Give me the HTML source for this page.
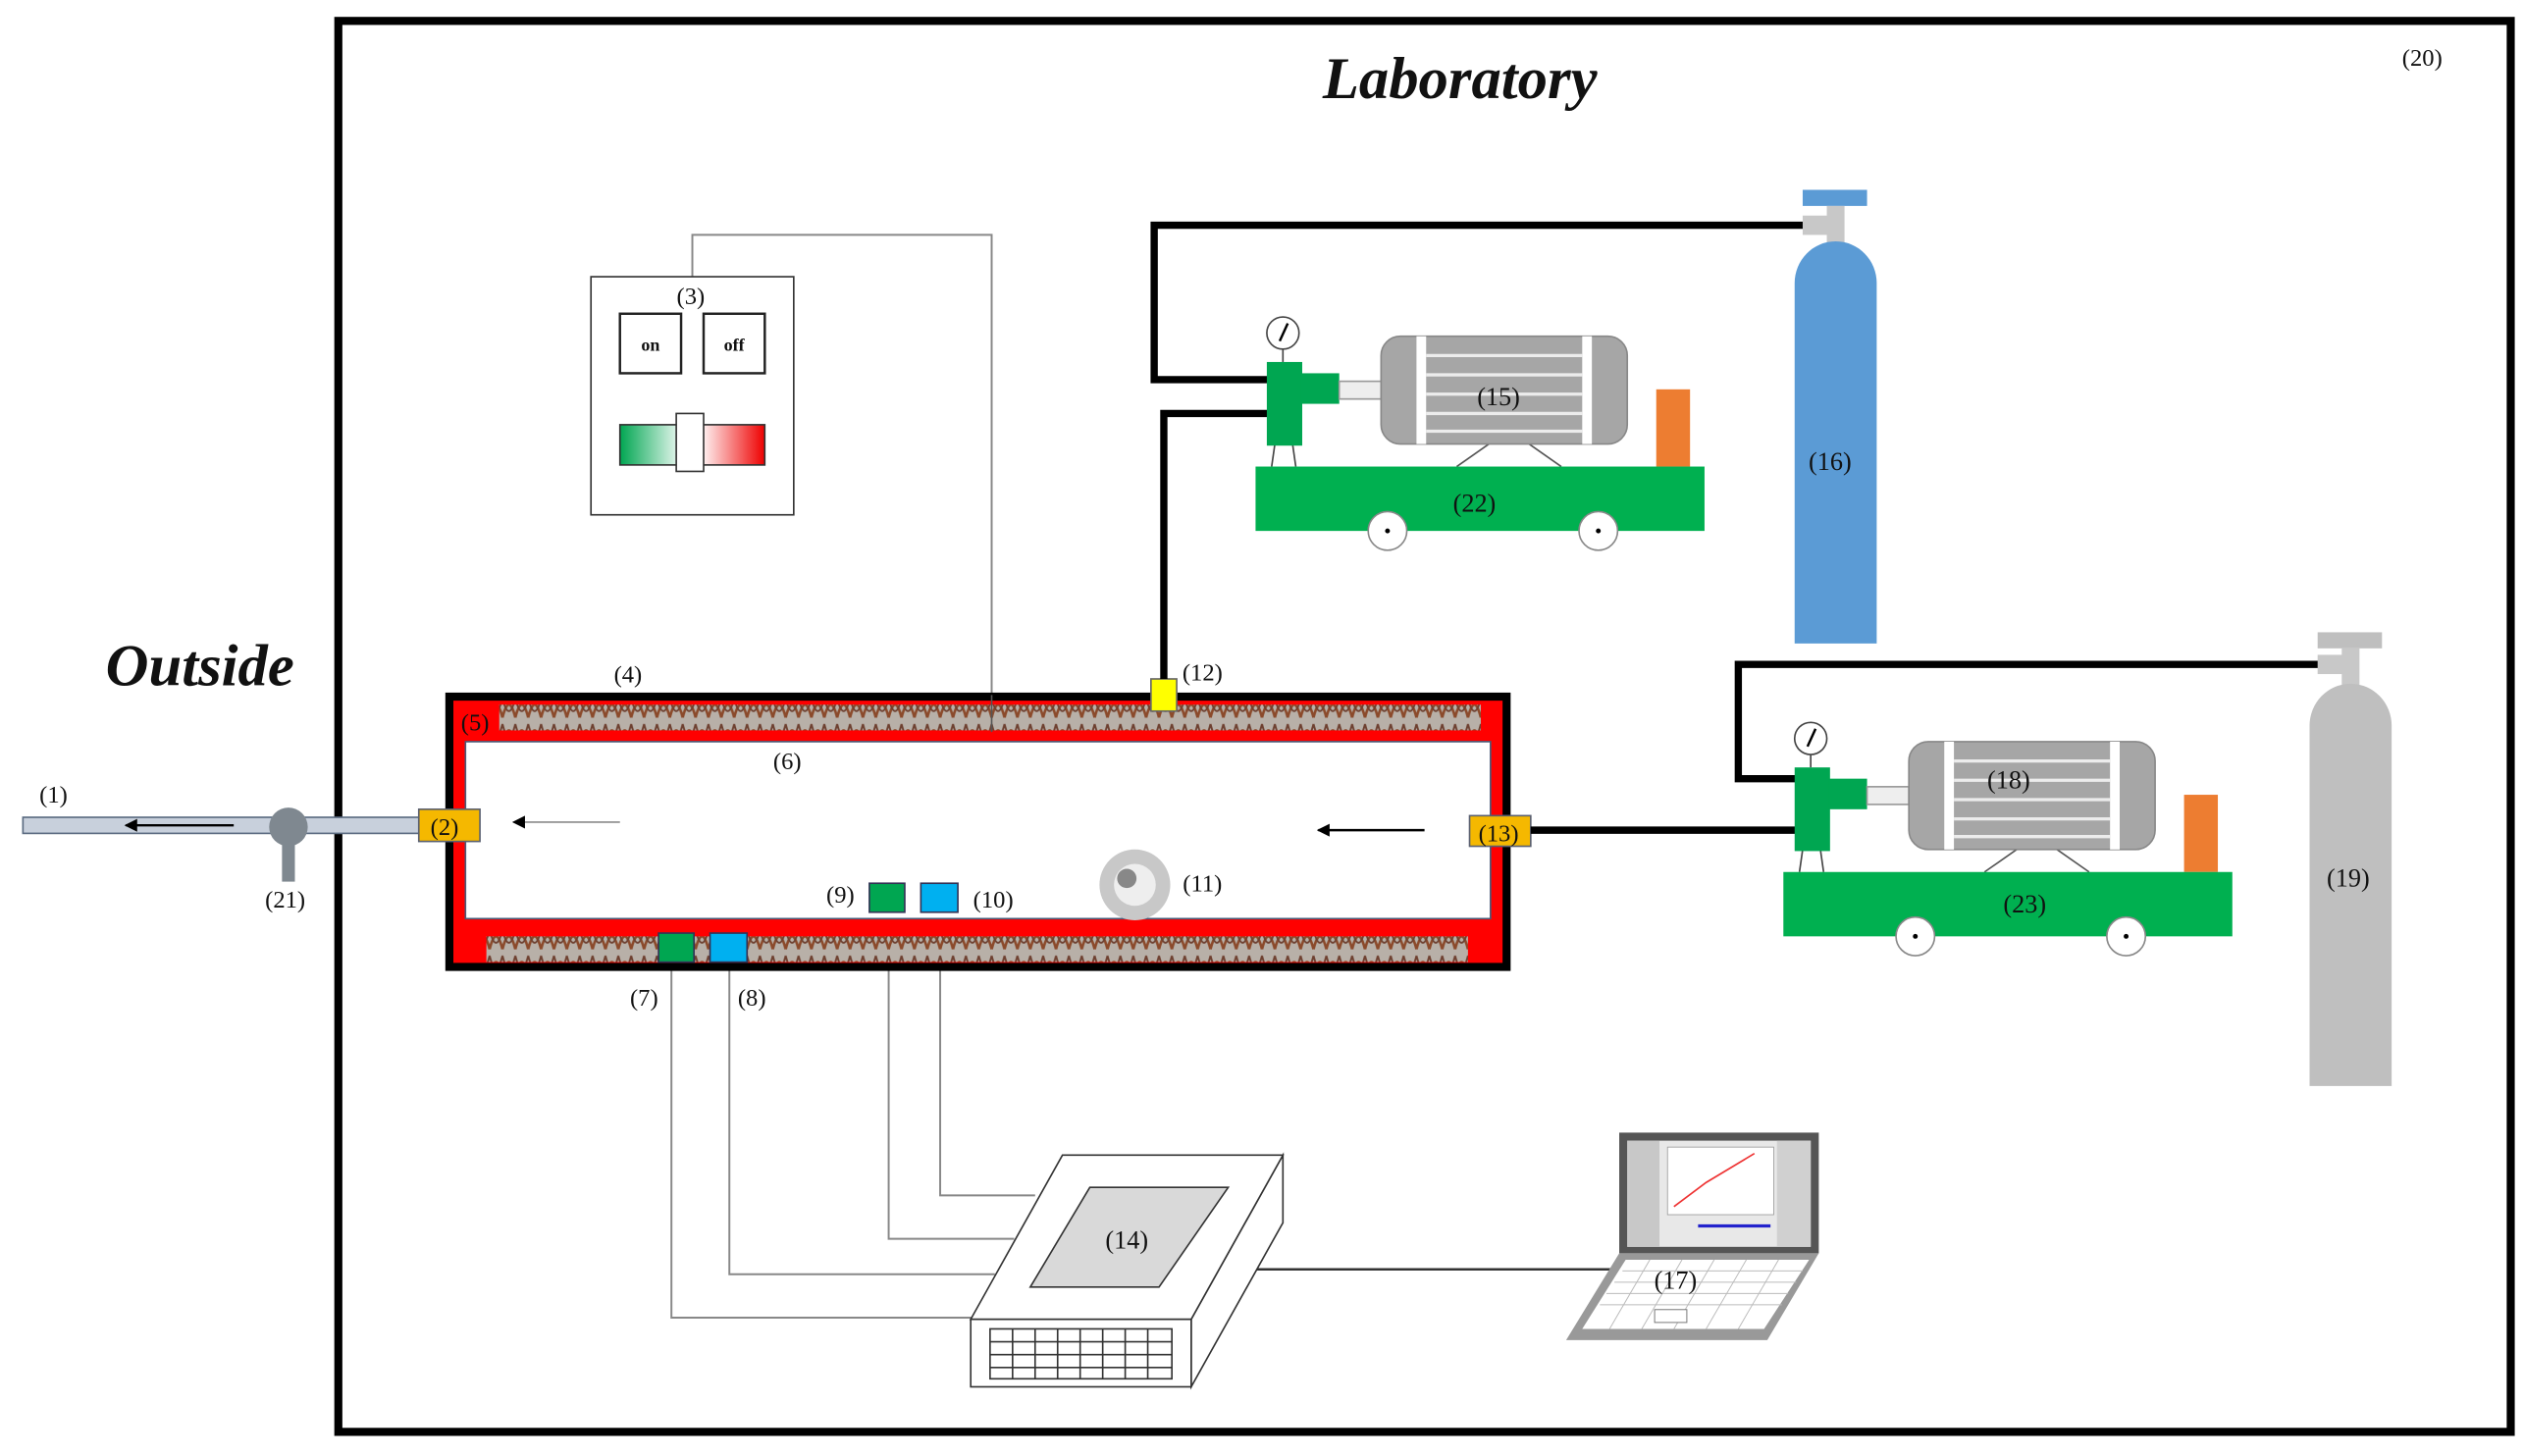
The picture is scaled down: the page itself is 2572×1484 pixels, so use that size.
<!DOCTYPE html>
<html><head><meta charset="utf-8"><style>html,body{margin:0;padding:0;background:#fff}svg{display:block}text{font-family:"Liberation Serif",serif;fill:#111}</style></head><body>
<svg width="2572" height="1484" viewBox="0 0 1568 905" xmlns="http://www.w3.org/2000/svg">
<defs>
<pattern id="coil" width="8" height="16" patternUnits="userSpaceOnUse">
<rect width="8" height="16" fill="#b8b0a8"/>
<path d="M0 14 Q4 -2 8 14" stroke="#8b4a2b" stroke-width="1.6" fill="none"/>
<path d="M0 2 Q4 18 8 2" stroke="#6e4030" stroke-width="1.2" fill="none"/>
</pattern>
<linearGradient id="sw" x1="0" x2="1"><stop offset="0" stop-color="#00a651"/><stop offset="0.45" stop-color="#fff"/><stop offset="0.55" stop-color="#fff"/><stop offset="1" stop-color="#e00"/></linearGradient>
<marker id="ah" markerWidth="8" markerHeight="8" refX="7" refY="4" orient="auto" markerUnits="userSpaceOnUse"><path d="M0 0 L8 4 L0 8 Z" fill="#000"/></marker>
</defs>
<rect x="0" y="0" width="1568" height="905" fill="#fff"/>
<rect x="210" y="13" width="1350" height="877" fill="none" stroke="#000" stroke-width="5"/>
<text x="907" y="61" font-size="37" font-weight="bold" font-style="italic" text-anchor="middle" transform="translate(907 0) scale(1.0 1) translate(-907 0)">Laboratory</text>
<text x="1505" y="41" font-size="15" text-anchor="middle">(20)</text>
<text x="124" y="426" font-size="37" font-weight="bold" font-style="italic" text-anchor="middle">Outside</text>

<g stroke="#888" stroke-width="1.2" fill="none">
<polyline points="430,172 430,146 616,146 616,432"/>
<polyline points="417,600 417,819 604,819"/>
<polyline points="453,600 453,792 618,792"/>
<polyline points="552,567 552,770 630,770"/>
<polyline points="584,567 584,743 643,743"/>
</g>
<line x1="780" y1="789" x2="1005" y2="789" stroke="#333" stroke-width="1.5"/>

<rect x="14" y="508" width="248" height="10" fill="#c8d0dc" stroke="#5a6a80" stroke-width="1"/>
<line x1="145" y1="513" x2="78" y2="513" stroke="#000" stroke-width="1.5" marker-end="url(#ah)"/>
<text x="33" y="499" font-size="15" text-anchor="middle">(1)</text>
<rect x="175" y="520" width="8" height="28" fill="#7f8890"/>
<circle cx="179" cy="514" r="12" fill="#7f8890"/>
<text x="177" y="564" font-size="15" text-anchor="middle">(21)</text>

<rect x="279" y="433" width="657" height="168" fill="#f00" stroke="#000" stroke-width="5"/>
<rect x="310" y="438" width="610" height="16" fill="url(#coil)"/>
<rect x="302" y="582" width="610" height="16" fill="url(#coil)"/>
<rect x="289" y="461" width="637" height="110" fill="#fff" stroke="#4a5a78" stroke-width="1"/>
<line x1="616" y1="432" x2="616" y2="455" stroke="#555" stroke-width="1"/>
<rect x="260" y="503" width="38" height="20" fill="#f5b800" stroke="#5a6070"/>
<text x="276" y="519" font-size="15" text-anchor="middle">(2)</text>
<rect x="913" y="507" width="38" height="19" fill="#f5b800" stroke="#5a6070"/>
<text x="931" y="523" font-size="15" text-anchor="middle">(13)</text>
<rect x="715" y="422" width="16" height="20" fill="#ffff00" stroke="#666"/>
<text x="747" y="423" font-size="15" text-anchor="middle">(12)</text>
<line x1="385" y1="511" x2="319" y2="511" stroke="#999" stroke-width="1.2" marker-end="url(#ah)"/>
<line x1="885" y1="516" x2="819" y2="516" stroke="#000" stroke-width="1.5" marker-end="url(#ah)"/>
<text x="390" y="424" font-size="15" text-anchor="middle">(4)</text>
<text x="295" y="454" font-size="15" text-anchor="middle">(5)</text>
<text x="489" y="478" font-size="15" text-anchor="middle">(6)</text>
<text x="522" y="561" font-size="15" text-anchor="middle">(9)</text>
<text x="617" y="564" font-size="15" text-anchor="middle">(10)</text>
<text x="747" y="554" font-size="15" text-anchor="middle">(11)</text>
<text x="400" y="625" font-size="15" text-anchor="middle">(7)</text>
<text x="467" y="625" font-size="15" text-anchor="middle">(8)</text>
<rect x="540" y="549" width="22" height="18" fill="#00a651" stroke="#335"/>
<rect x="572" y="549" width="23" height="18" fill="#00b0f0" stroke="#335"/>
<rect x="409" y="580" width="22" height="18" fill="#00a651" stroke="#335"/>
<rect x="441" y="580" width="23" height="18" fill="#00b0f0" stroke="#335"/>
<circle cx="705" cy="550" r="22" fill="#c8c8c8"/>
<circle cx="705" cy="550" r="13" fill="#eee"/>
<circle cx="700" cy="546" r="6" fill="#888"/>

<rect x="367" y="172" width="126" height="148" fill="#fff" stroke="#333"/>
<text x="429" y="189" font-size="15" text-anchor="middle">(3)</text>
<rect x="385" y="195" width="38" height="37" fill="#fff" stroke="#222" stroke-width="1.5"/>
<rect x="437" y="195" width="38" height="37" fill="#fff" stroke="#222" stroke-width="1.5"/>
<text x="404" y="218" font-size="11" font-weight="bold" text-anchor="middle">on</text>
<text x="456" y="218" font-size="11" font-weight="bold" text-anchor="middle">off</text>
<rect x="385" y="264" width="90" height="25" fill="url(#sw)" stroke="#333"/>
<rect x="420" y="257" width="17" height="36" fill="#fff" stroke="#333"/>

<g stroke="#000" stroke-width="4.5" fill="none">
<polyline points="1122,140 717,140 717,236 788,236"/>
<polyline points="723,422 723,257 788,257"/>
<polyline points="1444,413 1080,413 1080,484 1116,484"/>
<line x1="951" y1="516" x2="1116" y2="516"/>
</g>

<g id="c1">
<line x1="792" y1="276" x2="790" y2="290" stroke="#444"/><line x1="803" y1="276" x2="805" y2="290" stroke="#444"/>
<line x1="797" y1="217" x2="797" y2="225" stroke="#444"/>
<circle cx="797" cy="207" r="10" fill="#fff" stroke="#444"/>
<line x1="795" y1="212" x2="800" y2="201" stroke="#000" stroke-width="1.5"/>
<rect x="787" y="225" width="22" height="52" fill="#00a651"/>
<rect x="808" y="232" width="24" height="19" fill="#00a651"/>
<rect x="832" y="237" width="26" height="11" fill="#eee" stroke="#999"/>
<line x1="925" y1="276" x2="905" y2="290" stroke="#555"/><line x1="950" y1="276" x2="970" y2="290" stroke="#555"/>
<rect x="858" y="209" width="153" height="67" rx="12" fill="#a6a6a6" stroke="#888"/>
<rect x="880" y="209" width="6" height="67" fill="#fff"/><rect x="983" y="209" width="6" height="67" fill="#fff"/>
<g stroke="#ececec" stroke-width="2"><line x1="886" y1="221" x2="983" y2="221"/><line x1="886" y1="233" x2="983" y2="233"/><line x1="886" y1="245" x2="983" y2="245"/><line x1="886" y1="257" x2="983" y2="257"/><line x1="886" y1="268" x2="983" y2="268"/></g>
<rect x="1029" y="242" width="21" height="48" fill="#ed7d31"/>
<rect x="780" y="290" width="279" height="40" fill="#00b050"/>
<circle cx="862" cy="330" r="12" fill="#fff" stroke="#888"/><circle cx="862" cy="330" r="1.5" fill="#000"/>
<circle cx="993" cy="330" r="12" fill="#fff" stroke="#888"/><circle cx="993" cy="330" r="1.5" fill="#000"/>
</g>
<text x="931" y="252" font-size="16" text-anchor="middle">(15)</text>
<text x="916" y="318" font-size="16" text-anchor="middle">(22)</text>
<use href="#c1" transform="translate(328,252)"/>
<text x="1248" y="490" font-size="16" text-anchor="middle">(18)</text>
<text x="1258" y="567" font-size="16" text-anchor="middle">(23)</text>

<rect x="1120" y="118" width="40" height="10" fill="#5b9bd5"/>
<rect x="1135" y="128" width="11" height="24" fill="#c8c8c8"/>
<rect x="1120" y="134" width="16" height="12" fill="#c8c8c8"/>
<path d="M1115 400 V176 A25.5 26 0 0 1 1166 176 V400 Z" fill="#5b9bd5"/>
<text x="1137" y="292" font-size="16" text-anchor="middle">(16)</text>
<rect x="1440" y="393" width="40" height="10" fill="#bfbfbf"/>
<rect x="1455" y="403" width="11" height="24" fill="#c8c8c8"/>
<rect x="1440" y="407" width="16" height="12" fill="#c8c8c8"/>
<path d="M1435 675 V451 A25.5 26 0 0 1 1486 451 V675 Z" fill="#bfbfbf"/>
<text x="1459" y="551" font-size="16" text-anchor="middle">(19)</text>

<polygon points="740,820 797,718 797,760 740,862" fill="#fff" stroke="#333"/>
<rect x="603" y="820" width="137" height="42" fill="#fff" stroke="#333"/>
<polygon points="660,718 797,718 740,820 603,820" fill="#fff" stroke="#333"/>
<polygon points="677,738 763,738 720,800 640,800" fill="#d9d9d9" stroke="#333"/>
<text x="700" y="776" font-size="16" text-anchor="middle">(14)</text>
<g stroke="#333" stroke-width="1" fill="none">
<rect x="615" y="826" width="113" height="31"/>
<line x1="615" y1="834" x2="728" y2="834"/><line x1="615" y1="842" x2="728" y2="842"/><line x1="615" y1="850" x2="728" y2="850"/>
<line x1="629" y1="826" x2="629" y2="857"/><line x1="643" y1="826" x2="643" y2="857"/><line x1="657" y1="826" x2="657" y2="857"/><line x1="671" y1="826" x2="671" y2="857"/><line x1="685" y1="826" x2="685" y2="857"/><line x1="699" y1="826" x2="699" y2="857"/><line x1="713" y1="826" x2="713" y2="857"/>
</g>

<rect x="1006" y="704" width="124" height="75" fill="#555"/>
<rect x="1011" y="709" width="114" height="66" fill="#e8e8e8"/>
<rect x="1036" y="713" width="66" height="42" fill="#fff" stroke="#999" stroke-width="0.5"/>
<polyline points="1040,750 1060,735 1090,717" stroke="#e33" fill="none"/>
<rect x="1011" y="709" width="20" height="66" fill="#c8c8c8"/>
<rect x="1104" y="709" width="21" height="66" fill="#d0d0d0"/>
<line x1="1055" y1="762" x2="1100" y2="762" stroke="#22c" stroke-width="2"/>
<polygon points="1006,779 1130,779 1098,833 973,833" fill="#999"/>
<polygon points="1010,783 1124,783 1096,826 983,826" fill="#fff"/>
<g stroke="#bbb" stroke-width="0.6"><line x1="1008" y1="790" x2="1120" y2="790"/><line x1="1003" y1="797" x2="1116" y2="797"/><line x1="998" y1="804" x2="1111" y2="804"/><line x1="994" y1="811" x2="1107" y2="811"/>
<line x1="1025" y1="783" x2="1000" y2="826"/><line x1="1045" y1="783" x2="1020" y2="826"/><line x1="1065" y1="783" x2="1040" y2="826"/><line x1="1085" y1="783" x2="1060" y2="826"/><line x1="1105" y1="783" x2="1080" y2="826"/></g>
<rect x="1028" y="814" width="20" height="8" fill="#fff" stroke="#777" stroke-width="0.6"/>
<text x="1041" y="801" font-size="16" text-anchor="middle">(17)</text>
</svg>
</body></html>
